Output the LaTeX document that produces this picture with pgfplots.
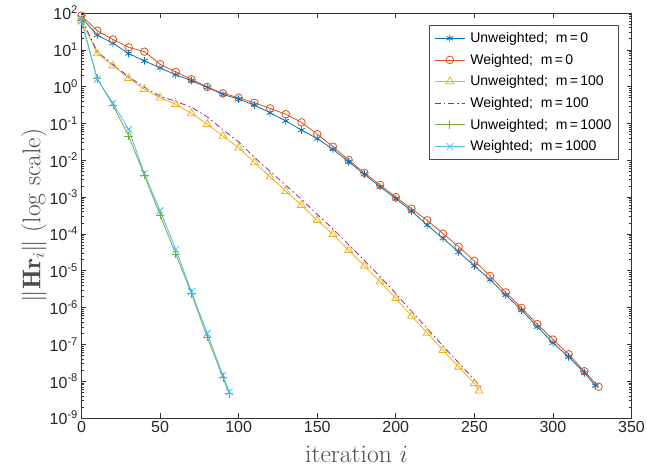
\documentclass[border=0pt]{standalone}
\usepackage{pgfplots}
\pgfplotsset{compat=1.18}
\usepackage{fontspec}
\newfontfamily\hv{Liberation Sans}
\definecolor{mblue}{rgb}{0,0.447,0.741}
\definecolor{morange}{rgb}{0.85,0.325,0.098}
\definecolor{myellow}{rgb}{0.929,0.694,0.125}
\definecolor{mpurple}{rgb}{0.494,0.184,0.556}
\definecolor{mgreen}{rgb}{0.466,0.674,0.188}
\definecolor{mcyan}{rgb}{0.301,0.745,0.933}
\begin{document}
\begin{tikzpicture}
\begin{axis}[
  scale only axis, width=550pt, height=405pt,
  xmin=0, xmax=350, ymin=1e-9, ymax=1e2, ymode=log,
  xtick={0,50,...,350},
  ytick={1e-9,1e-8,1e-7,1e-6,1e-5,1e-4,1e-3,1e-2,1e-1,1e0,1e1,1e2},
  yticklabels={10\textsuperscript{-9},10\textsuperscript{-8},10\textsuperscript{-7},10\textsuperscript{-6},10\textsuperscript{-5},10\textsuperscript{-4},10\textsuperscript{-3},10\textsuperscript{-2},10\textsuperscript{-1},10\textsuperscript{0},10\textsuperscript{1},10\textsuperscript{2}},
  /pgf/number format/assume math mode=true,
  ticklabel style={font=\hv\fontsize{16}{18}\selectfont, text=black!85},
  axis line style={black!80, line width=0.7pt},
  tick style={black!80, line width=0.6pt},
  major tick length=5pt, minor tick length=3pt,
  tick align=inside,
  xlabel={iteration $i$},
  ylabel={$\|\mathbf{H}\mathbf{r}_i\|$ (log scale)},
  label style={font=\fontsize{25.5}{30}\selectfont, text=black!70},
  xlabel style={yshift=-6pt},
  ylabel style={yshift=-4pt},
  legend cell align=left,
  legend style={at={(0.977,0.970)}, anchor=north east, draw=black!70, line width=0.6pt,
    font=\hv\fontsize{14}{16}\selectfont, row sep=6pt, column sep=3pt, inner xsep=5pt, inner ysep=5pt},
  legend image code/.code={\draw[mark repeat=2,mark phase=2] plot coordinates {(0cm,0cm) (0.53cm,0cm) (1.06cm,0cm)};},
  every axis plot/.append style={line width=0.8pt},
]
\addplot[mblue, mark=asterisk, mark size=3.8pt] coordinates {
(0,75.9)(10,25.1)(20,15.1)(30,7.94)(40,5.01)(50,3.24)(60,2.09)(70,1.45)(80,0.955)(90,0.617)
(100,0.457)(110,0.316)(120,0.195)(130,0.117)(140,0.0661)(150,0.0389)(160,0.0200)(170,9.12e-3)
(180,4.17e-3)(190,1.91e-3)(200,9.12e-4)(210,4.17e-4)(220,1.74e-4)(230,7.59e-5)(240,3.24e-5)
(250,1.35e-5)(260,5.75e-6)(270,2.19e-6)(280,8.51e-7)(290,3.02e-7)(300,1.10e-7)(310,4.57e-8)
(320,1.70e-8)(327,7.59e-9)};
\addlegendentry{Unweighted;\ \ m\,=\,0}
\addplot[morange, mark=o, mark size=3.8pt] coordinates {
(0,85.1)(10,33.1)(20,19.1)(30,11.7)(40,8.91)(50,4.07)(60,2.51)(70,1.58)(80,0.977)(90,0.661)
(100,0.501)(110,0.363)(120,0.257)(130,0.178)(140,0.107)(150,0.0513)(160,0.0234)(170,0.0102)
(180,4.57e-3)(190,2.14e-3)(200,1.0e-3)(210,4.79e-4)(220,2.34e-4)(230,1.02e-4)(240,4.47e-5)
(250,1.86e-5)(260,7.24e-6)(270,2.57e-6)(280,9.77e-7)(290,3.55e-7)(300,1.35e-7)(310,5.37e-8)
(320,1.86e-8)(329,7.08e-9)};
\addlegendentry{Weighted;\ \ m\,=\,0}
\addplot[myellow, mark=triangle, mark size=4.5pt] coordinates {
(0,63.1)(10,7.94)(20,3.72)(30,1.70)(40,0.851)(50,0.501)(60,0.331)(70,0.186)(80,0.0955)
(90,0.0457)(100,0.0219)(110,8.71e-3)(120,3.55e-3)(130,1.45e-3)(140,6.03e-4)(150,2.34e-4)
(160,9.77e-5)(170,3.63e-5)(180,1.35e-5)(190,5.01e-6)(200,1.78e-6)(210,5.89e-7)(220,2.04e-7)
(230,6.92e-8)(240,2.45e-8)(250,8.71e-9)(253,5.50e-9)};
\addlegendentry{Unweighted;\ \ m\,=\,100}
\addplot[mpurple, dash pattern=on 6pt off 3pt on 1.5pt off 3pt] coordinates {
(0,70.8)(10,8.91)(20,3.98)(30,1.86)(40,0.955)(50,0.550)(60,0.398)(70,0.275)(80,0.151)
(90,0.0676)(100,0.0316)(110,0.0120)(120,5.01e-3)(130,2.09e-3)(140,8.71e-4)(150,3.39e-4)
(160,1.38e-4)(170,5.13e-5)(180,1.91e-5)(190,6.92e-6)(200,2.40e-6)(210,7.94e-7)(220,2.69e-7)
(230,9.12e-8)(240,3.16e-8)(250,1.10e-8)(255,6.31e-9)};
\addlegendentry{Weighted;\ \ m\,=\,100}
\addplot[mgreen, mark=+, mark size=4.2pt] coordinates {
(0,63.1)(10,1.66)(20,0.316)(30,0.0457)(40,3.98e-3)(50,3.24e-4)(60,2.82e-5)(70,2.40e-6)
(80,1.58e-7)(90,1.26e-8)(94,4.57e-9)};
\addlegendentry{Unweighted;\ \ m\,=\,1000}
\addplot[mcyan, mark=x, mark size=4.8pt] coordinates {
(0,60.3)(10,1.58)(20,0.355)(30,0.0692)(40,4.37e-3)(50,4.27e-4)(60,3.80e-5)(70,2.69e-6)
(80,2.00e-7)(90,1.45e-8)(94,5.13e-9)};
\addlegendentry{Weighted;\ \ m\,=\,1000}
\end{axis}
\pgfresetboundingbox
\path[use as bounding box] ([shift={(-81.5pt,-53pt)}]current axis.south west) rectangle ([shift={(15.5pt,13pt)}]current axis.north east);
\end{tikzpicture}
\end{document}
